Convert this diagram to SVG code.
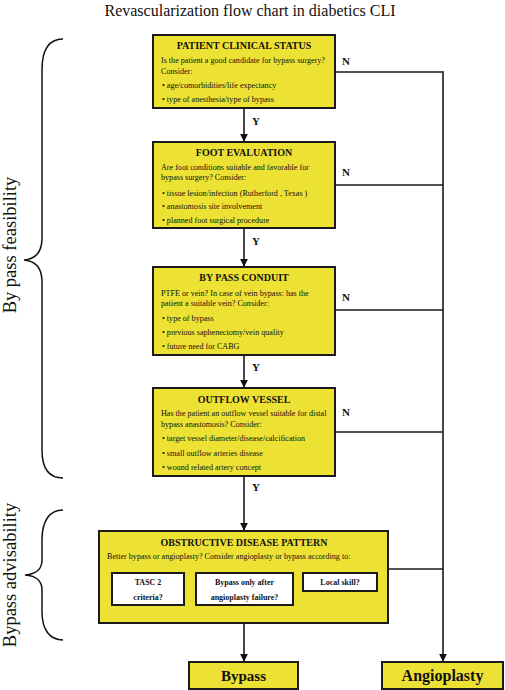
<svg xmlns="http://www.w3.org/2000/svg" width="505" height="690" viewBox="0 0 505 690" font-family="'Liberation Serif', 'Times New Roman', serif">
<defs>
<style>
.box{fill:#EDE234;stroke:#1a1a1a;stroke-width:2}
.sub{fill:#fff;stroke:#1a1a1a;stroke-width:2}
text{font-family:'Liberation Serif','Times New Roman',serif;fill:#111}
.h{font-size:10px;font-weight:bold;text-anchor:middle}
.b{font-size:8.1px}
.sb{font-size:8px;font-weight:bold;text-anchor:middle}
.yn{font-size:11px;font-weight:bold}
.ln{fill:none;stroke:#1a1a1a;stroke-width:1.6}
.br{fill:none;stroke:#111;stroke-width:1.5}
</style>
<marker id="ah" viewBox="0 0 10 10" refX="9" refY="5" markerWidth="5" markerHeight="5" orient="auto">
<path d="M0,0 L10,5 L0,10 z" fill="#111"/>
</marker>
</defs>
<rect width="505" height="690" fill="#fff"/>
<text x="250" y="16" font-size="16" text-anchor="middle">Revascularization flow chart in diabetics CLI</text>

<g id="braces">
<path class="br" d="M63,39 C50,39 42,48 42,70 L42,238 C42,252 36,259 24,260 C36,261 42,268 42,282 L42,450 C42,470 50,478 63,478"/>
<path class="br" d="M63,510 C50,510 42,520 42,540 L42,560 C42,570 36,574 25,575 C36,576 42,580 42,590 L42,612 C42,630 50,640 63,640"/>
<text font-size="18.5" text-anchor="middle" transform="translate(16,245) rotate(-90)">By pass feasibility</text>
<text font-size="18.5" text-anchor="middle" transform="translate(16,575) rotate(-90)">Bypass advisability</text>
</g>

<g id="connectors">
<line class="ln" x1="244" y1="108" x2="244" y2="141" marker-end="url(#ah)"/>
<line class="ln" x1="244" y1="228" x2="244" y2="266" marker-end="url(#ah)"/>
<line class="ln" x1="244" y1="355" x2="244" y2="387" marker-end="url(#ah)"/>
<line class="ln" x1="244" y1="476" x2="244" y2="530" marker-end="url(#ah)"/>
<line class="ln" x1="244" y1="623" x2="244" y2="661" marker-end="url(#ah)"/>
<line class="ln" x1="335" y1="72" x2="443" y2="72"/>
<line class="ln" x1="335" y1="185" x2="443" y2="185"/>
<line class="ln" x1="335" y1="310" x2="443" y2="310"/>
<line class="ln" x1="335" y1="432" x2="443" y2="432"/>
<line class="ln" x1="388" y1="569" x2="443" y2="569"/>
<line class="ln" x1="443" y1="71.2" x2="443" y2="661" marker-end="url(#ah)"/>
<text class="yn" x="252" y="125">Y</text>
<text class="yn" x="252" y="245">Y</text>
<text class="yn" x="252" y="371">Y</text>
<text class="yn" x="252" y="491">Y</text>
<text class="yn" x="342" y="65">N</text>
<text class="yn" x="342" y="176">N</text>
<text class="yn" x="342" y="301">N</text>
<text class="yn" x="342" y="416">N</text>
</g>

<g id="patient-clinical-status">
<rect class="box" x="153" y="35" width="182" height="73"/>
<text class="h" x="244" y="49">PATIENT CLINICAL STATUS</text>
<text class="b" x="161" y="63">Is the patient a good candidate for  bypass surgery?</text>
<text class="b" x="161" y="74">Consider:</text>
<text class="b" x="162" y="88">•  age/comorbidities/life expectancy</text>
<text class="b" x="162" y="102">•  type of anesthesia/type of bypass</text>
</g>

<g id="foot-evaluation">
<rect class="box" x="153" y="142" width="182" height="86"/>
<text class="h" x="244" y="156">FOOT EVALUATION</text>
<text class="b" x="161" y="170">Are foot conditions suitable and favorable for</text>
<text class="b" x="161" y="180">bypass surgery? Consider:</text>
<text class="b" x="162" y="196">•  tissue lesion/infection  (Rutherford , Texas )</text>
<text class="b" x="162" y="209">•  anastomosis site involvement</text>
<text class="b" x="162" y="223">•  planned foot surgical procedure</text>
</g>

<g id="by-pass-conduit">
<rect class="box" x="153" y="267" width="182" height="88"/>
<text class="h" x="244" y="281">BY PASS CONDUIT</text>
<text class="b" x="161" y="296">PTFE or vein? In case of vein bypass: has the</text>
<text class="b" x="161" y="306">patient a suitable vein?  Consider:</text>
<text class="b" x="162" y="321">•  type of bypass</text>
<text class="b" x="162" y="335">•  previous saphenectomy/vein quality</text>
<text class="b" x="162" y="349">•  future need for CABG</text>
</g>

<g id="outflow-vessel">
<rect class="box" x="153" y="388" width="182" height="88"/>
<text class="h" x="244" y="403">OUTFLOW VESSEL</text>
<text class="b" x="161" y="416">Has the patient an outflow vessel suitable for distal</text>
<text class="b" x="161" y="427">bypass anastomosis?  Consider:</text>
<text class="b" x="162" y="441">•  target vessel diameter/disease/calcification</text>
<text class="b" x="162" y="456">•  small outflow arteries disease</text>
<text class="b" x="162" y="470">•  wound related artery concept</text>
</g>

<g id="obstructive-disease-pattern">
<rect class="box" x="99" y="531" width="289" height="92"/>
<text class="h" x="244" y="546">OBSTRUCTIVE DISEASE PATTERN</text>
<text class="b" x="107" y="559">Better bypass or angioplasty? Consider  angioplasty or bypass according to:</text>
<rect class="sub" x="112" y="573" width="72" height="32"/>
<text class="sb" x="148" y="585">TASC 2</text>
<text class="sb" x="148" y="600">criteria?</text>
<rect class="sub" x="196" y="573" width="97" height="32"/>
<text class="sb" x="244.5" y="585">Bypass only after</text>
<text class="sb" x="244.5" y="600">angioplasty failure?</text>
<rect class="sub" x="303" y="573" width="74" height="18"/>
<text class="sb" x="340" y="585">Local skill?</text>
</g>

<g id="bypass">
<rect class="box" x="189" y="662" width="109" height="27"/>
<text x="243.5" y="681" font-size="15" font-weight="bold" text-anchor="middle">Bypass</text>
</g>

<g id="angioplasty">
<rect class="box" x="382" y="662" width="121" height="27"/>
<text x="442.5" y="681" font-size="16" font-weight="bold" text-anchor="middle">Angioplasty</text>
</g>
</svg>
